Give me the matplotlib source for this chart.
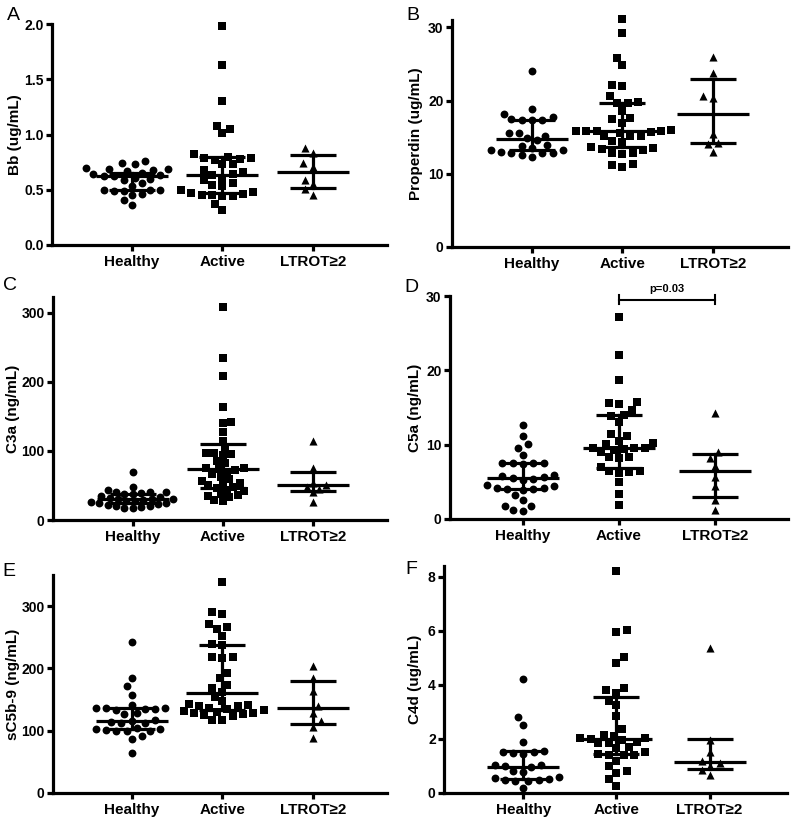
import numpy as np
import matplotlib
matplotlib.use('Agg')
import matplotlib.pyplot as plt

plt.rcParams['font.family'] = ['Liberation Sans', 'DejaVu Sans']
plt.rcParams['font.weight'] = 'bold'

groups = ['Healthy', 'Active', 'LTROT≥2']

# A - Bb (ug/mL)
bb_healthy = [0.76, 0.74, 0.73, 0.70, 0.69, 0.69, 0.68, 0.67, 0.65, 0.64, 0.63, 0.62, 0.62,
              0.61, 0.60, 0.59, 0.56, 0.53, 0.50, 0.50, 0.50, 0.49, 0.49, 0.46, 0.45, 0.41, 0.36]
bb_active = [1.98, 1.63, 1.30, 1.08, 1.05, 1.01, 0.82, 0.80, 0.79, 0.79, 0.78, 0.77, 0.73, 0.73,
             0.68, 0.66, 0.64, 0.63, 0.61, 0.59, 0.56, 0.54, 0.53, 0.50, 0.48, 0.46,
             0.45, 0.44, 0.44, 0.45, 0.47, 0.37, 0.32]
bb_ltrot = [0.88, 0.83, 0.74, 0.71, 0.59, 0.55, 0.51, 0.45]
bb_med = [0.62, 0.63, 0.66]
bb_q1 = [0.50, 0.47, 0.52]
bb_q3 = [0.65, 0.80, 0.81]

# B - Properdin (ug/mL)
pr_healthy = [24.0, 18.8, 18.2, 17.7, 17.5, 17.4, 17.3, 17.3, 15.6, 15.5, 15.2, 14.9, 14.6, 13.9,
              13.8, 13.5, 13.3, 13.2, 13.0, 12.9, 12.8, 12.8, 12.6, 12.3]
pr_active = [31.1, 29.2, 25.8, 24.8, 22.1, 22.0, 20.6, 19.8, 19.7, 19.6, 18.6, 17.6, 17.5, 17.0,
             16.0, 15.9, 15.9, 15.8, 15.8, 15.7, 15.6, 15.2, 15.2, 15.1, 14.5, 14.3, 13.6, 13.5,
             13.4, 13.2, 12.9, 12.8, 12.7, 11.3, 11.2, 10.9]
pr_ltrot = [26.0, 23.8, 20.6, 20.4, 15.4, 14.2, 14.1, 13.0]
pr_med = [14.7, 15.9, 18.1]
pr_q1 = [13.2, 13.6, 14.2]
pr_q3 = [17.4, 19.7, 23.0]

# C - C3a (ng/mL)
c3_healthy = [69, 48, 44, 41, 41, 40, 39, 38, 37, 35, 33, 32, 31, 30, 30, 29, 28, 27, 26, 25,
              24, 23, 22, 21, 20, 19, 18, 17]
c3_active = [308, 234, 209, 163, 142, 140, 127, 115, 104, 97, 97, 95, 94, 86, 82, 76, 75, 74,
             72, 70, 67, 63, 60, 56, 54, 52, 50, 48, 47, 43, 42, 38, 36, 35, 33, 29, 28]
c3_ltrot = [115, 76, 54, 50, 48, 45, 40, 26]
c3_med = [30, 74, 50]
c3_q1 = [24, 47, 42]
c3_q3 = [37, 110, 70]

# D - C5a (ng/mL)
c5_healthy = [12.6, 11.2, 10.1, 9.6, 8.6, 7.6, 7.6, 7.6, 7.5, 7.4, 5.9, 5.8, 5.6, 5.5, 5.4, 5.3,
              4.6, 4.5, 4.2, 4.2, 4.1, 4.0, 3.9, 3.2, 2.5, 1.8, 1.8, 1.2, 1.1]
c5_active = [27.2, 22.0, 18.7, 15.7, 15.6, 15.5, 14.7, 14.0, 13.9, 13.0, 11.4, 11.1, 10.5, 10.2,
             10.1, 9.6, 9.5, 9.5, 9.4, 9.3, 9.0, 8.4, 8.3, 8.2, 7.0, 6.5, 6.4, 6.3, 6.2, 5.0,
             3.4, 1.9]
c5_ltrot = [14.3, 9.0, 8.2, 7.1, 5.6, 4.4, 2.6, 1.2]
c5_med = [5.5, 9.5, 6.4]
c5_q1 = [4.1, 6.9, 3.0]
c5_q3 = [7.6, 14.0, 8.8]

# E - sC5b-9 (ng/mL)
sc_healthy = [242, 185, 171, 158, 141, 137, 136, 136, 135, 135, 134, 128, 127, 118, 116, 114,
              113, 112, 104, 103, 102, 101, 100, 100, 99, 92, 86, 65]
sc_active = [338, 291, 287, 271, 267, 264, 252, 239, 238, 219, 218, 217, 192, 184, 174, 168,
             162, 154, 147, 143, 141, 140, 139, 137, 135, 133, 131, 130, 129, 128, 127, 125,
             123, 118, 117]
sc_ltrot = [204, 184, 163, 140, 128, 116, 106, 89]
sc_med = [115, 161, 137]
sc_q1 = [102, 133, 110]
sc_q3 = [136, 238, 180]

# F - C4d (ug/mL)
c4_healthy = [4.23, 2.80, 2.52, 1.90, 1.55, 1.52, 1.50, 1.48, 1.45, 1.05, 1.02, 1.00, 0.95,
              0.80, 0.78, 0.58, 0.56, 0.50, 0.48, 0.47, 0.46, 0.45, 0.20]
c4_active = [8.2, 6.05, 5.95, 5.05, 4.8, 3.9, 3.8, 3.7, 3.4, 3.25, 2.85, 2.35, 2.15, 2.12, 2.05,
             2.05, 2.0, 1.95, 1.9, 1.85, 1.85, 1.7, 1.65, 1.5, 1.45, 1.4, 1.4, 1.4, 1.2, 1.0,
             0.8, 0.75, 0.5, 0.25]
c4_ltrot = [5.35, 1.95, 1.5, 1.2, 1.1, 1.0, 0.85, 0.65]
c4_med = [0.97, 2.0, 1.15]
c4_q1 = [0.50, 1.45, 0.87]
c4_q3 = [1.55, 3.55, 2.0]

W, H = 800, 824
fig = plt.figure(figsize=(8, 8.24), dpi=100)


def swarm(vals, ppu_x, ppu_y, diam=8.6):
    # simple beeswarm in pixel space
    vals = np.asarray(vals, dtype=float)
    order = np.argsort(vals)
    placed = []
    xs = np.zeros(len(vals))
    step = diam * 0.3
    for n, i in enumerate(order):
        y = vals[i] * ppu_y
        sign = 1 if n % 2 == 0 else -1
        cands = [0.0]
        for j in range(1, 80):
            cands += [sign * j * step, -sign * j * step]
        for c in cands:
            if all((c - px) ** 2 + (y - py) ** 2 >= diam ** 2 for px, py in placed):
                break
        placed.append((c, y))
        xs[i] = c / ppu_x
    return xs


def panel(box, xlim, ylim, yticks, yfmt, ylabel, label_x, letter, letter_xy,
          data, med, q1, q3, diam=8.6):
    l, r, t, b = box
    ax = fig.add_axes([l / W, 1 - b / H, (r - l) / W, (b - t) / H])
    ax.set_xlim(*xlim)
    ax.set_ylim(*ylim)
    ppu_x = (r - l) / (xlim[1] - xlim[0])
    ppu_y = (b - t) / (ylim[1] - ylim[0])
    markers = ['o', 's', '^']
    sizes = [32, 30, 34]
    for k, vals in enumerate(data):
        xs = (k + 1) + swarm(vals, ppu_x, ppu_y, diam)
        ax.scatter(xs, vals, marker=markers[k], s=sizes[k], color='black',
                   linewidths=0, zorder=3, clip_on=False)
        mw = 36 / ppu_x
        cw = 23 / ppu_x
        x0 = k + 1
        ax.plot([x0 - mw, x0 + mw], [med[k], med[k]], color='black', lw=2.3,
                solid_capstyle='butt', zorder=4)
        ax.plot([x0, x0], [q1[k], q3[k]], color='black', lw=2.3, zorder=4)
        for q in (q1[k], q3[k]):
            ax.plot([x0 - cw, x0 + cw], [q, q], color='black', lw=2.3,
                    solid_capstyle='butt', zorder=4)
    ax.spines['top'].set_visible(False)
    ax.spines['right'].set_visible(False)
    ax.spines['left'].set_linewidth(2.3)
    ax.spines['bottom'].set_linewidth(2.3)
    ax.set_xticks([1, 2, 3])
    ax.set_xticklabels(groups, fontsize=11, fontweight='bold')
    ax.set_yticks(yticks)
    ax.set_yticklabels([yfmt.format(v) for v in yticks], fontsize=10, fontweight='bold')
    ax.tick_params(axis='both', width=2.3, length=4.5, pad=3)
    ax.tick_params(axis='y', pad=1.5)
    ax.set_ylabel(ylabel, fontsize=11, fontweight='bold')
    ax.yaxis.set_label_coords((label_x - l) / (r - l), 0.5)
    fig.text(letter_xy[0] / W, 1 - letter_xy[1] / H, letter, fontsize=14,
             fontweight='normal', ha='center', va='center')
    return ax


axA = panel((52, 387, 24, 245), (0.116, 3.82), (0, 2.0), [0, 0.5, 1.0, 1.5, 2.0], '{:.1f}',
            'Bb (ug/mL)', 22, 'A', (13, 15),
            [bb_healthy, bb_active, bb_ltrot], bb_med, bb_q1, bb_q3)
axB = panel((452, 788, 20, 247), (0.116, 3.83), (0, 31), [0, 10, 20, 30], '{:d}',
            'Properdin (ug/mL)', 423, 'B', (413, 15),
            [pr_healthy, pr_active, pr_ltrot], pr_med, pr_q1, pr_q3)
axC = panel((53, 387, 297, 520), (0.116, 3.82), (0, 323), [0, 100, 200, 300], '{:d}',
            'C3a (ng/mL)', 20, 'C', (10, 285),
            [c3_healthy, c3_active, c3_ltrot], c3_med, c3_q1, c3_q3, diam=7.0)
axD = panel((450, 788, 296, 519), (0.24, 3.76), (0, 30), [0, 10, 20, 30], '{:d}',
            'C5a (ng/mL)', 422, 'D', (411, 288),
            [c5_healthy, c5_active, c5_ltrot], c5_med, c5_q1, c5_q3)
axE = panel((53, 387, 575, 793), (0.13, 3.82), (0, 350), [0, 100, 200, 300], '{:d}',
            'sC5b-9 (ng/mL)', 20, 'E', (9, 572),
            [sc_healthy, sc_active, sc_ltrot], sc_med, sc_q1, sc_q3)
axF = panel((444, 787, 566, 793), (0.15, 3.83), (0, 8.4), [0, 2, 4, 6, 8], '{:d}',
            'C4d (ug/mL)', 422, 'F', (411, 570),
            [c4_healthy, c4_active, c4_ltrot], c4_med, c4_q1, c4_q3)

# significance bracket in D
p_y = 29.5
axD.plot([2, 3], [p_y, p_y], color='black', lw=1.5, clip_on=False)
for xb in (2, 3):
    axD.plot([xb, xb], [p_y - 0.6, p_y + 0.6], color='black', lw=1.5, clip_on=False)
axD.text(2.5, p_y + 0.8, 'p=0.03', ha='center', va='bottom', fontsize=8, fontweight='bold')

plt.savefig('out.png', dpi=100)
